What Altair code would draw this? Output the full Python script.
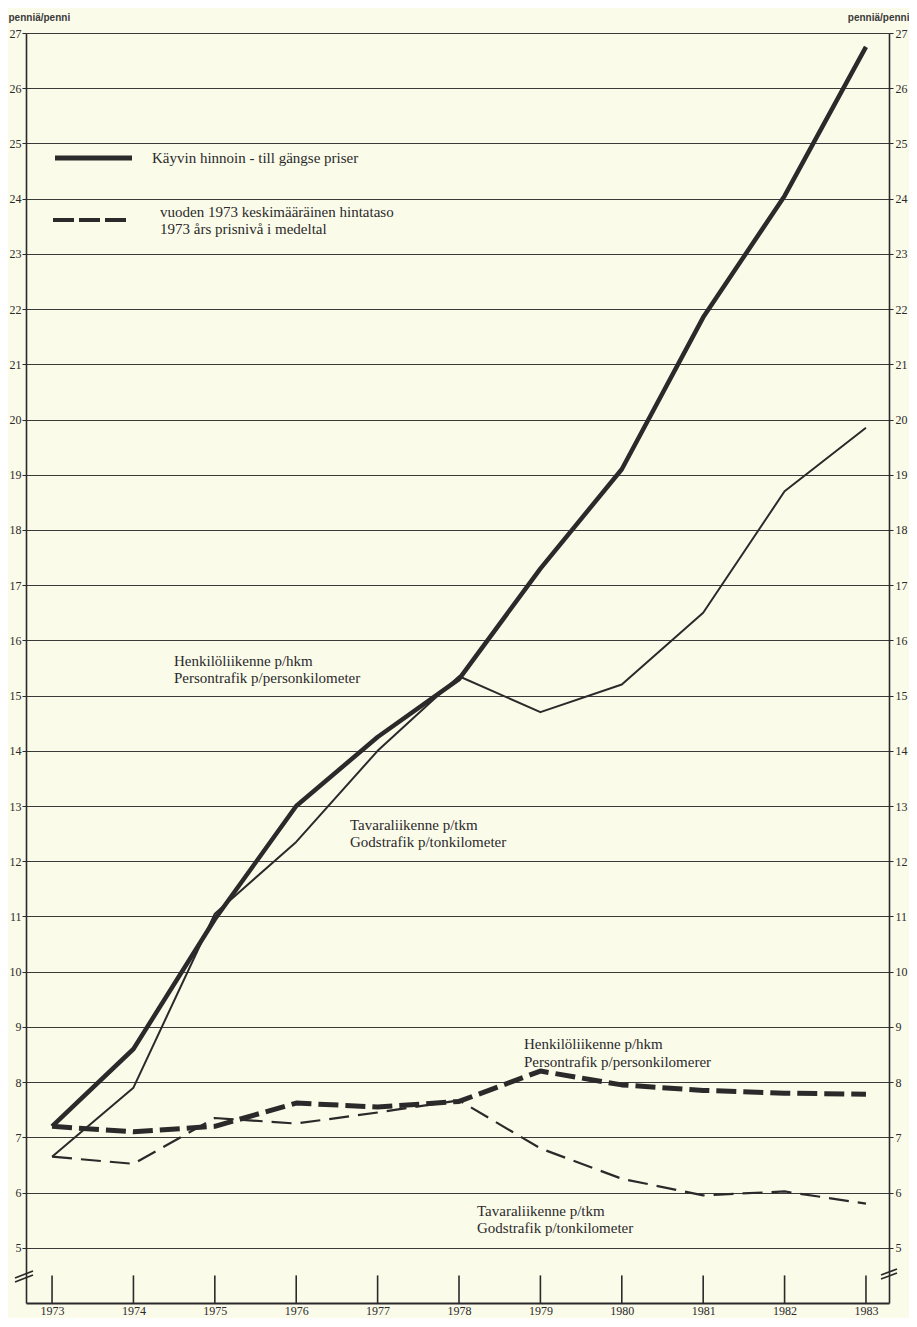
import altair as alt
import pandas as pd

# ---------------- data ----------------
years = [1973, 1974, 1975, 1976, 1977, 1978, 1979, 1980, 1981, 1982, 1983]
# current prices (käyvin hinnoin)
person_current = [7.2, 8.6, 10.95, 13.0, 14.25, 15.3, 17.3, 19.1, 21.85, 24.05, 26.75]
goods_current = [6.65, 7.9, 11.05, 12.35, 14.0, 15.35, 14.7, 15.2, 16.5, 18.7, 19.85]
# 1973 price level
person_1973 = [7.2, 7.1, 7.2, 7.62, 7.55, 7.65, 8.2, 7.95, 7.85, 7.8, 7.78]
goods_1973 = [6.65, 6.52, 7.35, 7.25, 7.45, 7.67, 6.8, 6.25, 5.95, 6.02, 5.8]
y_ticks = list(range(5, 28))

df = pd.DataFrame({
    "year": years,
    "person_current": person_current,
    "goods_current": goods_current,
    "person_1973": person_1973,
    "goods_1973": goods_1973,
})
long = df.melt("year", var_name="series", value_name="value")

W, H = 863, 1270
FONT = "Liberation Serif"
SANS = "Liberation Sans"
INK = "#2a2a2a"
BG = "#fbfbea"

xscale = alt.Scale(domain=[1972.68, 1983.283], nice=False, zero=False)
yscale = alt.Scale(domain=[4, 27], nice=False, zero=False)


def series_line(name, width, dash=None):
    props = dict(color=INK, strokeWidth=width, strokeCap="butt", strokeJoin="round")
    if dash:
        props["strokeDash"] = dash
    return (
        alt.Chart(long)
        .transform_filter(alt.datum.series == name)
        .mark_line(**props)
        .encode(
            x=alt.X("year:Q", scale=xscale, axis=None),
            y=alt.Y("value:Q", scale=yscale, axis=None),
        )
    )


ticks_df = pd.DataFrame({"v": y_ticks})

left_axis = alt.Chart(ticks_df).mark_point(opacity=0).encode(
    y=alt.Y(
        "v:Q", scale=yscale,
        axis=alt.Axis(
            orient="left", values=y_ticks, grid=True, gridColor="#3a3a3a", gridWidth=1,
            domain=True, domainColor=INK, domainWidth=1.6,
            ticks=True, tickSize=4, tickColor=INK, tickWidth=1,
            labelFont=FONT, labelFontSize=12, labelColor=INK, labelPadding=1,
            title="penniä/penni", titleAngle=0, titleX=-18, titleY=-16,
            titleAlign="left", titleBaseline="middle", titleFont=SANS,
            titleFontSize=10, titleFontWeight="bold", titleColor="#3a3a3a",
        ),
    )
)

right_axis = alt.Chart(ticks_df).mark_point(opacity=0).encode(
    y=alt.Y(
        "v:Q", scale=yscale,
        axis=alt.Axis(
            orient="right", values=y_ticks, grid=False,
            domain=True, domainColor=INK, domainWidth=1.6,
            ticks=True, tickSize=4, tickColor=INK, tickWidth=1,
            labelFont=FONT, labelFontSize=12, labelColor=INK, labelPadding=2,
            title="penniä/penni", titleAngle=0, titleX=20, titleY=-16,
            titleAlign="right", titleBaseline="middle", titleFont=SANS,
            titleFontSize=10, titleFontWeight="bold", titleColor="#3a3a3a",
        ),
    )
)

x_axis = (
    alt.Chart(df)
    .transform_calculate(lo="4", hi="4.5")
    .mark_rule(color=INK, strokeWidth=1.6)
    .encode(
        x=alt.X(
            "year:Q", scale=xscale,
            axis=alt.Axis(
                orient="bottom", values=years, format="d", grid=False,
                domain=True, domainColor=INK, domainWidth=1.8, ticks=False,
                labelFont=FONT, labelFontSize=12, labelColor=INK, labelPadding=2,
                title=None,
            ),
        ),
        y=alt.Y("lo:Q", scale=yscale, axis=None),
        y2="hi:Q",
    )
)


def deco_rule(x, x2, y, y2, width=1.4, dash=None):
    props = dict(color=INK, strokeWidth=width, strokeCap="butt")
    if dash:
        props["strokeDash"] = dash
    return alt.Chart(pd.DataFrame({"k": [0]})).mark_rule(**props).encode(
        x=alt.value(x), x2=alt.value(x2), y=alt.value(y), y2=alt.value(y2)
    )


def label(text, x, y, size=15):
    return alt.Chart(pd.DataFrame({"k": [0]})).mark_text(
        align="left", baseline="middle", font=FONT, fontSize=size, color=INK
    ).encode(x=alt.value(x), y=alt.value(y), text=alt.value(text))


breaks = [
    deco_rule(-11, 7, 1245, 1238, width=1.8),
    deco_rule(-11, 7, 1249, 1242, width=1.8),
    deco_rule(855, 871, 1242, 1236, width=1.8),
    deco_rule(855, 871, 1246, 1240, width=1.8),
]

legend = [
    deco_rule(29, 106, 125, 125, width=5),
    label("Käyvin hinnoin - till gängse priser", 126, 125),
    deco_rule(27, 104, 187, 187, width=4, dash=[21, 5]),
    label("vuoden 1973 keskimääräinen hintataso", 134, 179),
    label("1973 års prisnivå i medeltal", 134, 196),
]

annotations = [
    label("Henkilöliikenne p/hkm", 148, 628),
    label("Persontrafik p/personkilometer", 148, 645),
    label("Tavaraliikenne p/tkm", 324, 792),
    label("Godstrafik p/tonkilometer", 324, 809),
    label("Henkilöliikenne p/hkm", 498, 1011),
    label("Persontrafik p/personkilomerer", 498, 1029),
    label("Tavaraliikenne p/tkm", 451, 1178),
    label("Godstrafik p/tonkilometer", 451, 1195),
]

chart = (
    alt.layer(
        left_axis,
        right_axis,
        x_axis,
        series_line("goods_current", 2),
        series_line("person_current", 4.5),
        series_line("goods_1973", 2.2, [20, 9]),
        series_line("person_1973", 5, [20, 7]),
        *breaks,
        *legend,
        *annotations,
    )
    .resolve_axis(x="independent", y="independent")
    .properties(
        width=W,
        height=H,
        autosize=alt.AutoSizeParams(type="none"),
        padding={"left": 18, "top": 25, "right": 20, "bottom": 15},
        background=BG,
    )
    .configure_view(stroke=None)
)

chart.save("out.html", embed_options={"renderer": "svg", "actions": False})
